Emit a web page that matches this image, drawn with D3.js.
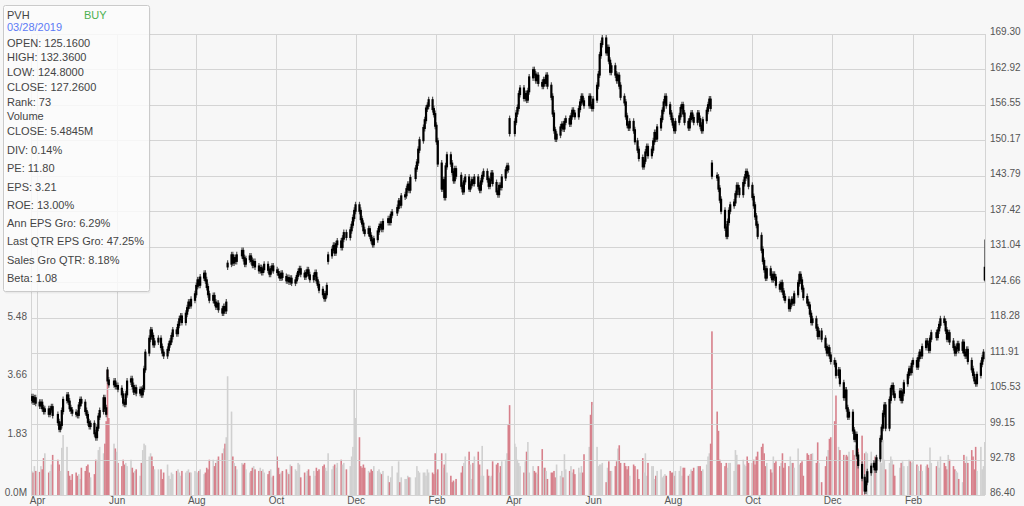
<!DOCTYPE html>
<html><head><meta charset="utf-8">
<script src="https://cdn.jsdelivr.net/npm/d3@7"></script>
<style>
html,body{margin:0;padding:0;background:#f7f7f7;}
svg{display:block;font-family:"Liberation Sans",Arial,sans-serif;}
</style></head><body>
<svg id="chart" width="1024" height="506"></svg>
<script>
// ---------- DATA ----------
const ticker = "PVH", rating = "BUY", quoteDate = "03/28/2019";
const firstDay = "2017-03-27", lastDay = "2019-03-28";
const holidays = ["2017-04-14","2017-05-29","2017-07-04","2017-09-04","2017-11-23","2017-12-25",
  "2018-01-01","2018-01-15","2018-02-19","2018-03-30","2018-05-28","2018-07-04","2018-09-03",
  "2018-11-22","2018-12-05","2018-12-25","2019-01-01","2019-01-21","2019-02-18"];

// daily closes
const closes = [
// 2017-03
103.5,104.0,103.2,103.8,103.0,
// 2017-04
102.5,103.0,102.0,101.5,101.8,101.0,101.8,102.2,100.8,99.5,98.3,99.0,101.5,103.5,104.3,103.2,102.0,101.6,101.2,
// 2017-05
101.0,100.8,102.5,103.5,103.0,101.5,100.8,99.5,98.8,99.2,97.5,96.8,98.5,100.5,101.5,103.8,102.0,101.0,107.0,106.3,106.8,106.0,
// 2017-06
106.0,105.5,104.5,103.0,102.8,104.5,106.8,107.2,106.0,105.0,105.6,104.8,105.3,104.5,105.5,109.0,112.0,114.5,116.0,115.0,113.5,114.0,
// 2017-07
114.5,113.0,112.0,111.5,112.5,113.5,114.0,115.0,116.0,115.5,117.0,118.0,118.5,117.5,119.0,120.0,121.0,120.5,121.5,122.5,
// 2017-08
124.0,125.0,124.2,125.5,126.2,125.0,123.8,122.5,121.5,122.2,121.0,120.3,120.8,119.8,119.2,120.2,119.6,121.0,128.0,129.5,128.2,129.0,128.5,
// 2017-09
129.5,130.3,129.0,128.0,128.8,129.3,128.5,127.8,128.3,127.5,126.8,127.2,126.5,127.0,127.8,126.9,126.2,127.0,127.5,126.8,
// 2017-10
126.5,126.0,125.5,126.2,125.6,125.0,125.4,124.8,125.3,124.6,125.0,125.8,126.5,127.0,126.2,125.7,126.3,126.8,125.9,125.2,125.8,126.3,
// 2017-11
125.0,124.2,123.3,122.5,121.8,122.5,124.0,129.5,130.5,131.2,130.0,131.5,132.0,131.0,132.5,133.5,132.8,134.0,135.0,136.2,137.5,
// 2017-12
138.5,137.5,136.0,135.2,134.0,133.5,134.2,133.0,132.2,131.5,132.4,133.8,134.6,135.0,134.3,135.5,136.0,135.5,136.8,137.2,
// 2018-01
138.0,139.2,138.6,140.1,140.3,141.4,142.2,141.3,143.4,145.1,146.2,148.5,150.2,152.4,153.8,155.9,156.4,157.4,155.8,154.9,152.8,
// 2018-02
150.0,146.0,141.5,143.0,140.0,145.5,147.5,146.0,144.5,143.0,145.0,143.8,142.0,141.0,142.8,143.5,141.5,142.2,143.0,
// 2018-03
142.5,143.5,142.0,141.3,142.8,143.8,144.5,143.2,142.0,143.0,144.2,142.5,141.0,140.5,142.0,141.8,143.5,144.8,145.5,145.0,151.5,
// 2018-04
153.5,155.0,156.0,158.5,159.5,157.8,158.5,157.5,159.0,161.5,162.8,162.0,161.0,161.8,160.5,160.0,161.0,160.5,161.8,160.0,158.0,
// 2018-05
155.0,152.0,150.5,151.2,152.5,153.0,152.3,153.5,154.0,153.2,154.5,155.5,155.0,154.5,155.8,157.0,158.0,157.2,156.5,158.0,156.5,156.0,
// 2018-06
157.5,160.0,162.0,165.5,167.5,168.5,166.0,166.8,164.5,162.5,163.5,162.0,161.0,161.8,160.0,158.0,157.0,154.5,153.0,152.5,153.5,
// 2018-07
152.0,150.0,148.5,147.0,145.5,146.5,148.0,149.0,147.5,148.5,150.0,151.5,150.5,152.5,154.0,155.5,157.0,158.0,156.5,155.0,154.0,
// 2018-08
153.0,152.0,153.5,154.5,156.0,156.5,155.0,153.5,152.5,154.0,155.0,154.2,153.5,155.0,154.0,152.8,152.0,153.8,155.5,156.5,157.5,156.0,143.8,
// 2018-09
143.5,141.5,139.5,137.5,134.5,133.0,135.5,137.5,138.5,139.0,140.5,142.0,141.5,140.5,142.5,143.5,144.5,143.8,142.0,
// 2018-10
140.0,138.5,136.5,135.0,133.0,130.5,128.5,127.0,125.5,127.0,126.0,125.2,126.0,125.5,124.2,123.5,124.5,123.0,122.0,121.5,120.0,120.8,121.5,
// 2018-11
121.0,122.5,124.5,126.0,125.0,123.5,122.0,121.0,120.5,119.0,117.5,118.0,116.5,115.0,115.8,114.5,113.0,112.0,112.8,111.5,110.5,
// 2018-12
110.0,108.0,108.8,106.5,104.0,105.2,102.0,100.5,101.2,98.0,96.5,97.2,93.5,91.8,89.5,87.2,88.8,90.5,91.5,
// 2019-01
92.0,91.0,93.0,96.5,98.5,101.0,102.5,98.5,103.5,105.5,106.0,104.5,104.0,105.0,103.5,104.8,106.5,108.0,109.0,108.5,110.0,
// 2019-02
110.5,109.5,111.0,112.0,111.5,113.0,114.0,113.5,112.5,114.5,115.5,114.8,116.0,117.0,118.0,117.5,116.0,114.5,115.5,
// 2019-03
114.0,113.0,112.0,112.8,113.5,112.5,113.8,112.0,111.5,112.5,110.5,109.0,108.0,107.0,106.5,108.0,110.0,111.0,112.0,127.26
];

// opens on gap days (other days open at the prior close)
const gapOpens = [["2017-05-25",108.8],["2017-08-25",127.5],["2017-11-10",128.5],
  ["2018-03-29",154.0],["2018-08-31",146.0],["2019-03-28",125.16]];

// daily volume, millions
const volumes = [
// 2017-03
1.0,0.75,0.7,0.9,0.75,
// 2017-04
0.72,0.9,0.8,1.15,1.3,0.7,0.75,0.95,1.25,1.1,0.95,0.75,1.47,1.87,1.5,0.75,0.6,0.47,0.65,
// 2017-05
0.7,0.6,0.65,0.5,0.85,0.75,0.9,0.95,0.7,0.55,0.65,1.1,1.05,1.4,1.5,1.3,1.6,2.3,3.9,2.4,1.6,1.45,
// 2017-06
1.35,1.0,0.9,1.1,0.95,1.0,0.9,1.1,0.85,0.7,0.75,0.8,0.6,1.0,1.4,1.6,1.55,1.2,1.3,1.2,0.9,0.8,
// 2017-07
0.8,0.8,0.5,0.7,0.95,0.6,0.5,0.7,0.65,0.75,0.8,0.7,0.6,0.75,0.7,0.75,0.8,0.7,0.7,0.75,
// 2017-08
0.72,0.7,0.75,0.8,0.65,0.7,0.85,0.8,1.1,1.1,0.9,1.0,1.1,1.2,1.3,1.45,1.6,1.8,3.7,2.6,1.2,1.0,0.9,
// 2017-09
0.8,1.0,0.95,1.0,0.8,0.7,0.75,0.85,0.9,0.8,0.75,0.85,0.75,0.8,0.7,0.65,0.75,0.8,0.55,0.6,
// 2017-10
1.2,0.85,0.65,0.7,0.75,0.8,0.7,0.65,0.95,0.9,0.8,0.75,1.0,0.95,0.55,0.7,0.6,0.75,0.8,0.6,0.75,0.6,
// 2017-11
0.85,0.75,0.8,0.9,0.95,0.85,0.75,1.3,0.8,0.9,0.95,0.85,1.0,1.1,0.95,1.0,0.8,0.9,1.2,1.5,3.3,
// 2017-12
2.4,1.8,0.9,0.85,0.95,0.85,0.75,0.7,0.8,0.75,0.9,0.75,0.8,0.7,0.65,0.75,0.6,0.4,0.55,0.9,
// 2018-01
0.7,1.05,0.4,0.55,0.5,0.5,0.6,0.55,0.55,0.55,0.9,0.75,0.7,0.7,0.7,0.6,0.8,0.7,0.7,0.65,1.3,
// 2018-02
0.7,0.8,1.3,0.85,0.95,1.3,0.7,0.6,0.4,0.45,0.4,0.5,0.7,0.9,1.0,1.2,1.35,0.95,0.5,
// 2018-03
1.0,1.2,1.35,0.95,0.6,1.53,0.6,0.8,0.6,0.55,0.6,1.05,0.95,1.0,0.7,0.9,1.05,1.1,1.3,2.2,2.8,
// 2018-04
1.6,1.5,1.1,1.0,0.9,0.7,1.05,1.35,1.65,0.7,0.9,0.75,0.7,0.65,0.9,1.43,0.85,0.85,0.75,0.5,0.7,
// 2018-05
0.7,0.75,0.55,0.95,0.6,0.75,0.55,1.27,0.8,0.75,0.9,0.7,0.8,0.65,0.85,0.7,0.9,0.7,1.27,1.5,2.5,2.9,
// 2018-06
2.8,1.5,0.9,0.95,0.95,1.0,0.4,0.85,1.05,0.75,0.75,0.9,1.05,1.45,1.55,1.0,1.0,0.9,0.8,0.9,0.6,
// 2018-07
0.95,0.9,0.8,0.5,1.15,0.7,1.3,0.6,1.0,0.9,0.9,0.5,0.6,0.75,0.8,0.55,0.6,0.65,0.6,0.75,0.7,
// 2018-08
0.7,0.6,0.75,0.75,0.9,0.6,0.85,0.85,0.6,0.65,0.8,0.75,0.85,0.9,0.9,0.9,0.75,0.8,0.95,1.2,1.3,1.6,5.1,
// 2018-09
2.6,2.0,1.1,1.0,0.9,1.0,0.85,1.0,1.0,0.75,1.4,1.25,0.95,0.95,1.1,0.95,0.9,1.2,1.0,
// 2018-10
1.0,1.1,0.95,1.2,1.35,1.5,1.6,1.3,0.9,1.0,0.8,0.7,1.2,1.0,1.05,0.9,1.0,1.3,0.85,1.0,0.9,1.2,1.0,
// 2018-11
1.0,0.85,1.45,0.95,1.0,1.05,0.6,1.3,1.25,1.1,1.28,1.3,1.0,1.64,1.0,0.4,0.9,1.2,1.4,1.75,1.8,
// 2018-12
2.3,3.1,1.5,1.4,1.25,1.2,1.25,1.2,1.35,1.4,1.25,1.55,1.85,1.45,1.85,1.3,1.35,1.3,1.35,
// 2019-01
1.0,1.2,1.25,1.55,1.0,1.72,1.1,0.8,1.0,1.2,1.1,0.95,0.6,0.85,1.0,1.05,0.9,0.9,1.1,1.05,1.0,
// 2019-02
1.05,0.95,0.9,0.75,0.95,0.75,0.9,0.95,0.85,1.48,1.0,0.9,1.05,0.85,1.2,1.0,0.9,0.8,1.25,
// 2019-03
1.1,0.9,0.8,0.75,0.7,0.5,0.4,1.25,1.0,1.2,1.0,1.4,1.2,0.8,1.5,0.75,1.5,0.8,0.9,1.65
];

// last quote: open, high, low, close
const lastQuote = [125.16, 132.36, 124.80, 127.26];
const lastVolume = 5.4845;

const monthTicks = ["2017-04-01","2017-06-01","2017-08-01","2017-10-01","2017-12-01","2018-02-01",
  "2018-04-01","2018-06-01","2018-08-01","2018-10-01","2018-12-01","2019-02-01"];
const priceTicks = [169.30,162.92,156.55,150.17,143.79,137.42,131.04,124.66,118.28,111.91,105.53,99.15,92.78,86.40];
const volTicks = [0, 1.83, 3.66, 5.48];
const volTickLabels = ["0.0M","1.83","3.66","5.48"];

const infoTop = ["OPEN: " + lastQuote[0].toFixed(4), "HIGH: " + lastQuote[1].toFixed(4),
  "LOW: " + lastQuote[2].toFixed(4), "CLOSE: " + lastQuote[3].toFixed(4), "Rank: 73", "Volume",
  "CLOSE: " + lastVolume.toFixed(4) + "M"];
const infoBottom = ["DIV: 0.14%","PE: 11.80","EPS: 3.21","ROE: 13.00%","Ann EPS Gro: 6.29%",
  "Last QTR EPS Gro: 47.25%","Sales Gro QTR: 8.18%","Beta: 1.08"];

// ---------- BUILD ----------
const parse = d3.timeParse("%Y-%m-%d"), fmt = d3.timeFormat("%Y-%m-%d");
const dates = d3.timeDay.range(parse(firstDay), d3.timeDay.offset(parse(lastDay), 1))
  .filter(d => d.getDay() !== 0 && d.getDay() !== 6 && !holidays.includes(fmt(d)));
const gapMap = new Map(gapOpens);
const n = Math.min(dates.length, closes.length, volumes.length);
const rows = [];
for (let i = 0; i < n; i++) {
  const key = fmt(dates[i]);
  const open = gapMap.has(key) ? gapMap.get(key) : (i > 0 ? closes[i - 1] : closes[i]);
  rows.push({date: dates[i], open, close: closes[i], vol: volumes[i], last: i === n - 1});
}

const L = 31, R = 985, T = 34, B = 495;
const x = d3.scaleTime().domain([parse("2017-04-01"), parse("2019-02-01")]).range([37, 913]);
const y = d3.scaleLinear().domain([86.40, 169.30]).range([B, T]);
const v = d3.scaleLinear().domain([0, 5.4845]).range([B, B - 176]);

const svg = d3.select("#chart");
svg.append("rect").attr("width", 1024).attr("height", 506).attr("fill", "#f7f7f7");

svg.append("clipPath").attr("id", "plot").append("rect")
  .attr("x", L).attr("y", T - 6).attr("width", R - L).attr("height", B - T + 6);

// volume bars
svg.append("g").attr("clip-path", "url(#plot)").selectAll("rect").data(rows).join("rect")
  .attr("x", d => x(d.date) - 0.8).attr("width", 1.6)
  .attr("y", d => v(d.vol)).attr("height", d => B - v(d.vol))
  .attr("fill", d => d.close < d.open ? "#d7808b" : "#d0d0d0");

// grid
const grid = svg.append("g").attr("stroke", "#cfcfcf").attr("stroke-width", 1).attr("opacity", 0.85);
grid.selectAll("line.h").data(priceTicks).join("line").attr("class", "h")
  .attr("x1", L).attr("x2", R).attr("y1", d => Math.round(y(d)) + 0.5).attr("y2", d => Math.round(y(d)) + 0.5);
grid.selectAll("line.v").data(monthTicks).join("line").attr("class", "v")
  .attr("y1", T).attr("y2", B).attr("x1", d => Math.round(x(parse(d))) + 0.5).attr("x2", d => Math.round(x(parse(d))) + 0.5);
grid.append("line").attr("x1", L + 0.5).attr("x2", L + 0.5).attr("y1", T).attr("y2", B);
grid.append("line").attr("x1", R + 0.5).attr("x2", R + 0.5).attr("y1", T).attr("y2", B);

// candles
const cg = svg.append("g").attr("clip-path", "url(#plot)");
cg.selectAll("line").data(rows).join("line")
  .attr("x1", d => x(d.date)).attr("x2", d => x(d.date))
  .attr("y1", d => d.last ? y(lastQuote[1]) : y(Math.max(d.open, d.close)) - 3.5)
  .attr("y2", d => d.last ? y(lastQuote[2]) : y(Math.min(d.open, d.close)) + 3.5)
  .attr("stroke", "#555").attr("stroke-width", 1.2);
cg.selectAll("rect").data(rows).join("rect")
  .attr("x", d => x(d.date) - 1.1).attr("width", 2.2)
  .attr("y", d => y(Math.max(d.open, d.close)) - 1)
  .attr("height", d => Math.max(2, y(Math.min(d.open, d.close)) - y(Math.max(d.open, d.close)) + 2))
  .attr("fill", "#000");

// axes
const axisText = g => g.call(s => s.select(".domain").remove())
  .selectAll("text").attr("fill", "#555").style("font-size", "10px").style("font-family", '"Liberation Sans",Arial,sans-serif');

svg.append("g").attr("transform", `translate(${R},0)`)
  .call(d3.axisRight(y).tickValues(priceTicks).tickFormat(d3.format(".2f")).tickSize(0).tickPadding(5))
  .call(axisText).selectAll("text").attr("dy", null).attr("y", -2.6).attr("dominant-baseline", "central");

svg.append("g").attr("transform", `translate(${L},0)`)
  .call(d3.axisLeft(v).tickValues(volTicks).tickFormat((d, i) => volTickLabels[i]).tickSize(0).tickPadding(4))
  .call(axisText).selectAll("text").attr("dy", null).attr("y", -3.5).attr("dominant-baseline", "central");

svg.append("g").attr("transform", `translate(0,${B})`)
  .call(d3.axisBottom(x).tickValues(monthTicks.map(parse)).tickFormat(d3.timeFormat("%b")).tickSize(0).tickPadding(2))
  .call(axisText);

// info box
const box = svg.append("g");
box.append("rect").attr("x", 4.5).attr("y", 6.5).attr("width", 146).attr("height", 287)
  .attr("fill", "#000").attr("opacity", 0.05).attr("rx", 2);
box.append("rect").attr("x", 3.5).attr("y", 5.5).attr("width", 146).attr("height", 286)
  .attr("fill", "#fff").attr("fill-opacity", 0.82).attr("stroke", "#cacaca").attr("rx", 2);
const bt = box.append("g").style("font-size", "11px").attr("fill", "#444");
bt.append("text").attr("x", 7).attr("y", 19).text(ticker);
bt.append("text").attr("x", 84).attr("y", 19).attr("fill", "#4cb050").text(rating);
bt.append("text").attr("x", 7).attr("y", 31).attr("fill", "#5b7af5").text(quoteDate);
bt.selectAll("text.t").data(infoTop).join("text").attr("class", "t")
  .attr("x", 7).attr("y", (d, i) => 46.7 + i * 14.7).text(d => d);
bt.selectAll("text.b").data(infoBottom).join("text").attr("class", "b")
  .attr("x", 7).attr("y", (d, i) => 154 + i * 18.25).text(d => d);
</script>
</body></html>
